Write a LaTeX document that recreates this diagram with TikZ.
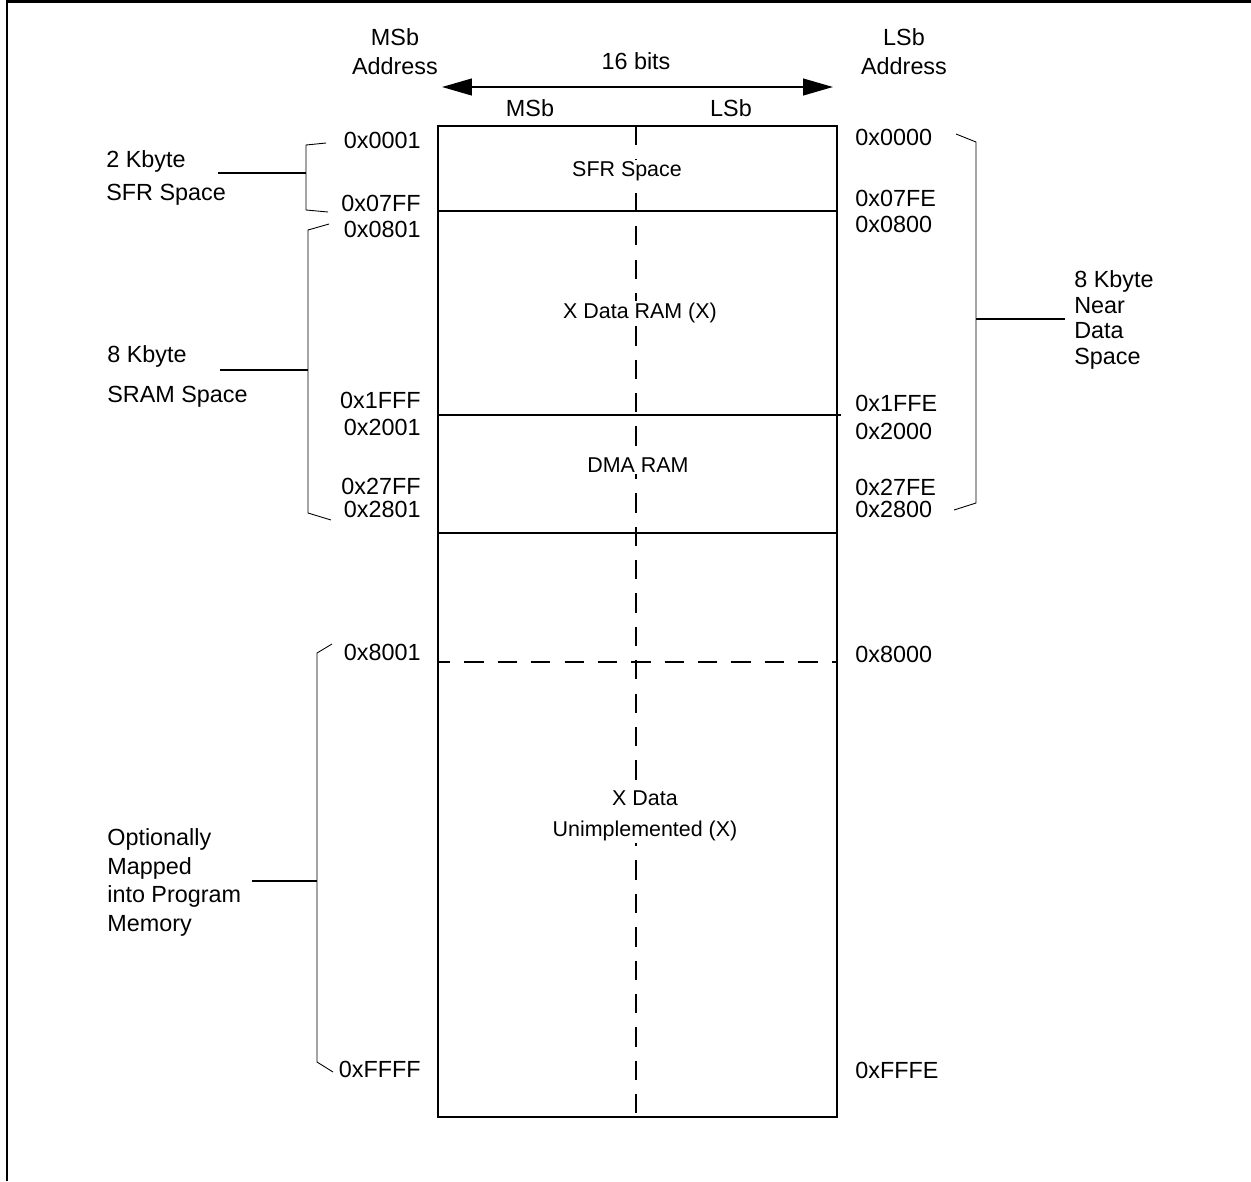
\documentclass[tikz,border=0pt]{standalone}
\usepackage{fontspec}
\setmainfont{Liberation Sans}
\usetikzlibrary{positioning, arrows.meta, calc}

\newcommand{\mapfont}[1]{\fontsize{13.3}{#1}\selectfont}

\begin{document}
\begin{tikzpicture}[
    x=0.02cm, y=-0.02cm,
    lbl/.style={font=\mapfont{15pt}, inner sep=0pt, text height=9.5pt, text depth=0pt},
    addrL/.style={lbl, anchor=east},
    addrR/.style={lbl, anchor=west},
    note/.style={inner sep=0pt, anchor=north west, align=left},
    region/.style={font=\fontsize{12.2}{17.5}\selectfont, fill=white, inner sep=1pt, align=center},
    frameline/.style={line width=1.2pt},
    wall/.style={line width=1.1pt},
    brace/.style={line width=0.5pt},
    tie/.style={line width=1pt},
    cut/.style={line width=1.1pt, dash pattern=on 11pt off 8pt},
    bitarr/.style={{Triangle[length=17pt, width=9.5pt]}-{Triangle[length=17pt, width=9.5pt]}, line width=1.1pt}
]
\useasboundingbox (0,0) rectangle (1251,1181);
% Frame
\draw[frameline] (7,1181) -- (7,1.5) -- (1251,1.5);

% Memory block
\draw[cut] (636,126) -- (636,1117);
\draw[wall] (438,126) rectangle (837,1117);
\draw[wall] (438,211) -- (837,211);
\draw[wall] (438,415) -- (841,415);
\draw[wall] (438,533) -- (837,533);
\draw[cut, dash phase=4pt] (438,662) -- (837,662);

\node[region] (sfr) at (627,171) {SFR Space};
\node[region] (xram) at (640,313) {X Data RAM (X)};
\node[region] (dma) at (638,465) {DMA RAM};
\node[region] (xun) at (645,816) {X Data\\Unimplemented (X)};

% Header
\node[lbl] (msbh) at (530,108) {MSb};
\node[lbl] (lsbh) at (731,108) {LSb};
\coordinate (wl) at (442,87);
\coordinate (wr) at (833,87);
\draw[bitarr] (wl) -- (wr);
\node[lbl] (bits) at (636,61) {16 bits};
\node[note, font=\mapfont{16.4pt}, align=center, anchor=north] (msba) at (395,28) {MSb\\Address};
\node[note, font=\mapfont{16.4pt}, align=center, anchor=north] (lsba) at (904,28) {LSb\\Address};

% MSb addresses
\node[addrL] (a0001) at (421,140) {0x0001};
\node[addrL] (a07ff) at (421,203) {0x07FF};
\node[addrL] (a0801) at (421,229) {0x0801};
\node[addrL] (a1fff) at (421,400) {0x1FFF};
\node[addrL] (a2001) at (421,427) {0x2001};
\node[addrL] (a27ff) at (421,486) {0x27FF};
\node[addrL] (a2801) at (421,509) {0x2801};
\node[addrL] (a8001) at (421,652) {0x8001};
\node[addrL] (affff) at (421,1069) {0xFFFF};

% LSb addresses
\node[addrR] (b0000) at (855,137) {0x0000};
\node[addrR] (b07fe) at (855,198) {0x07FE};
\node[addrR] (b0800) at (855,224) {0x0800};
\node[addrR] (b1ffe) at (855,403) {0x1FFE};
\node[addrR] (b2000) at (855,431) {0x2000};
\node[addrR] (b27fe) at (855,487) {0x27FE};
\node[addrR] (b2800) at (855,509) {0x2800};
\node[addrR] (b8000) at (855,654) {0x8000};
\node[addrR] (bfffe) at (855,1070) {0xFFFE};

% Left brackets
\draw[brace] (326,143) -- (306,145) -- (306,210) -- (328,212);
\coordinate (sfrmid) at (306,173);
\draw[brace] (329,224) -- (308,230) -- (308,513) -- (331,520);
\coordinate (srammid) at (308,370);
\draw[brace] (332,644) -- (317,653) -- (317,1062) -- (333,1072);
\coordinate (progmid) at (317,881);

\node[note, font=\mapfont{18.7pt}] (sfrnote) at (106,150) {2 Kbyte\\SFR Space};
\node[note, font=\mapfont{22.7pt}] (sramnote) at (107,345) {8 Kbyte\\SRAM Space};
\node[note, font=\mapfont{16.4pt}] (prognote) at (107,828) {Optionally\\Mapped\\into Program\\Memory};
\draw[tie] (218,173) -- (sfrmid);
\draw[tie] (220,370) -- (srammid);
\draw[tie] (252,881) -- (progmid);

% Right bracket
\draw[brace] (956,134) -- (976,142) -- (976,503) -- (954,510);
\coordinate (nearmid) at (976,319);
\node[note, font=\mapfont{14.7pt}] (nearnote) at (1074,270) {8 Kbyte\\Near\\Data\\Space};
\draw[tie] (nearmid) -- (1065,319);
\end{tikzpicture}
\end{document}
